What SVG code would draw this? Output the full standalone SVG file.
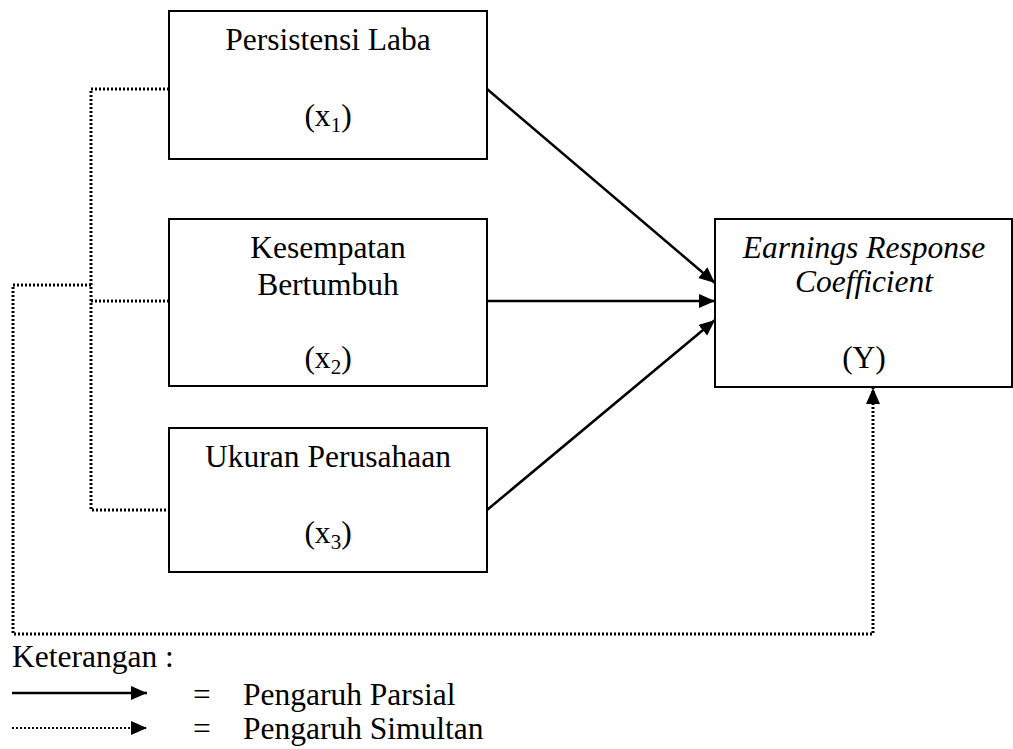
<svg xmlns="http://www.w3.org/2000/svg" width="1013" height="749" viewBox="0 0 1013 749">
<style>
.box{fill:#fff;stroke:#000;stroke-width:2}
.t{font-family:"Liberation Serif","Times New Roman",serif;font-size:31.5px;fill:#000}
.c{text-anchor:middle}
.i{font-style:italic}
.sub{font-size:21px}
.solid{fill:none;stroke:#000;stroke-width:2.5}
.dot{fill:none;stroke:#000;stroke-width:3;stroke-dasharray:2 2}
.dotl{fill:none;stroke:#000;stroke-width:2;stroke-dasharray:2 2}
</style>
<defs>
<marker id="ah" markerUnits="userSpaceOnUse" markerWidth="17" markerHeight="15" refX="16" refY="7" orient="auto">
<path d="M0,0 L16,7 L0,14 z" fill="#000"/>
</marker>
</defs>
<rect width="1013" height="749" fill="#fff"/>
<g id="connectors">
<path class="solid" d="M487,89 L715,283" marker-end="url(#ah)"/>
<path class="solid" d="M484,301 L715,301" marker-end="url(#ah)"/>
<path class="solid" d="M487,510 L715,320" marker-end="url(#ah)"/>
<path class="dot" d="M169,89 L91,89 L91,510 L169,510"/>
<path class="dot" d="M91,301 L169,301"/>
<path class="dot" d="M91,285 L13,285 L13,634 L873,634 L873,388" marker-end="url(#ah)"/>
</g>
<g id="node-x1">
<rect class="box" x="169" y="11" width="318" height="148"/>
<text class="t c" x="328" y="50">Persistensi Laba</text>
<text class="t c" x="328" y="126">(x<tspan class="sub" dy="6">1</tspan><tspan dy="-6">)</tspan></text>
</g>
<g id="node-x2">
<rect class="box" x="169" y="219" width="318" height="167"/>
<text class="t c" x="328" y="258">Kesempatan</text>
<text class="t c" x="328" y="295">Bertumbuh</text>
<text class="t c" x="328" y="368">(x<tspan class="sub" dy="6">2</tspan><tspan dy="-6">)</tspan></text>
</g>
<g id="node-x3">
<rect class="box" x="169" y="428" width="318" height="144"/>
<text class="t c" x="328" y="467">Ukuran Perusahaan</text>
<text class="t c" x="328" y="543">(x<tspan class="sub" dy="6">3</tspan><tspan dy="-6">)</tspan></text>
</g>
<g id="node-y">
<rect class="box" x="715" y="219" width="297" height="168"/>
<text class="t c i" x="864" y="258">Earnings Response</text>
<text class="t c i" x="864" y="292">Coefficient</text>
<text class="t c" x="864" y="368">(Y)</text>
</g>
<g id="legend">
<text class="t" x="12" y="667">Keterangan :</text>
<path class="solid" d="M12,693 L147,693" marker-end="url(#ah)"/>
<path class="dotl" d="M12,728 L147,728" marker-end="url(#ah)"/>
<text class="t" x="193" y="705">=</text>
<text class="t" x="243" y="705">Pengaruh Parsial</text>
<text class="t" x="193" y="739">=</text>
<text class="t" x="243" y="739">Pengaruh Simultan</text>
</g>
</svg>
